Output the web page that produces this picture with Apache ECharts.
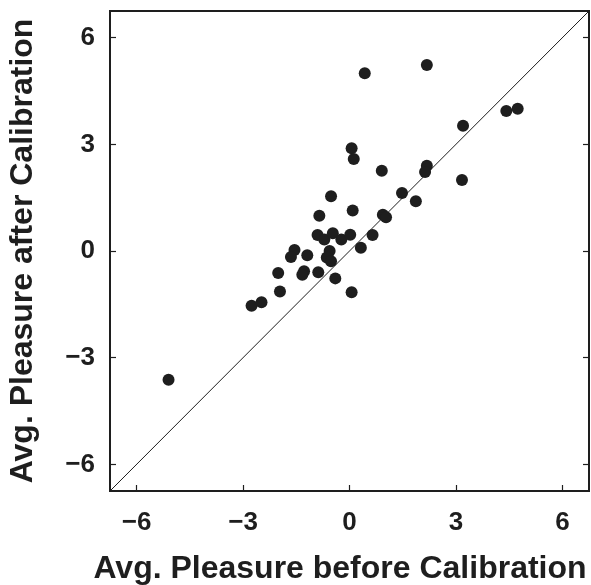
<!DOCTYPE html>
<html>
<head>
<meta charset="utf-8">
<script src="https://cdn.jsdelivr.net/npm/echarts@6/dist/echarts.min.js"></script>
<style>
html,body{margin:0;padding:0;background:#fff;}
#chart{width:591px;height:585px;}
</style>
</head>
<body>
<div id="chart"></div>
<script>
// Data
var beforeCalibration = [0.43, 2.18, 4.42, 4.74, 3.20, 3.17, 0.06, 0.12, 0.91, 2.18, 2.13, 1.48, 1.87, -0.52, 0.09, -0.85, 0.94, 1.03, 0.65, 0.32, -0.90, -0.71, -0.47, -0.23, 0.02, -1.55, -1.65, -1.19, -0.56, -0.64, -0.52, -1.28, -1.33, -0.88, -0.40, 0.06, -2.76, -2.48, -1.96, -5.10, -2.01];
var afterCalibration  = [5.00, 5.23, 3.94, 4.00, 3.52, 2.00, 2.89, 2.59, 2.26, 2.40, 2.22, 1.63, 1.40, 1.54, 1.14, 0.99, 1.02, 0.95, 0.45, 0.09, 0.45, 0.32, 0.50, 0.32, 0.46, 0.03, -0.17, -0.12, 0.00, -0.18, -0.29, -0.57, -0.67, -0.60, -0.77, -1.16, -1.54, -1.44, -1.14, -3.62, -0.62];
var tickValues = [-6, -3, 0, 3, 6];
var axisRange = [-6.75, 6.75];
var identityLine = [-6.75, 6.75];
var xTitle = 'Avg. Pleasure before Calibration';
var yTitle = 'Avg. Pleasure after Calibration';

var points = beforeCalibration.map(function (v, i) { return [v, afterCalibration[i]]; });
var diag = identityLine.map(function (v) { return [v, v]; });

var ink = '#1e1e1e';
var fontFamily = '"Liberation Sans", Arial, sans-serif';
function fmt(v) { return v < 0 ? '\u2212' + Math.abs(v) : String(v); }

function baseAxis(extra, labelMargin) {
  var a = {
    type: 'value',
    min: axisRange[0],
    max: axisRange[1],
    splitLine: { show: false },
    axisLine: { show: false, onZero: false },
    axisTick: { show: true, inside: true, length: 6, customValues: tickValues, lineStyle: { color: ink, width: 1.2 } },
    axisLabel: { show: true, customValues: tickValues, formatter: fmt, color: ink, fontFamily: fontFamily, fontWeight: 'bold', fontSize: 26, margin: labelMargin }
  };
  for (var k in extra) a[k] = extra[k];
  return a;
}

var chart = echarts.init(document.getElementById('chart'), null, { renderer: 'canvas' });
chart.setOption({
  animation: false,
  backgroundColor: '#fff',
  grid: {
    left: 110, right: 2, top: 11, bottom: 94,
    show: true, borderColor: ink, borderWidth: 2, backgroundColor: 'transparent',
    containLabel: false, outerBoundsMode: 'none'
  },
  xAxis: [
    baseAxis({
      position: 'bottom',
      name: xTitle, nameLocation: 'middle', nameGap: 62,
      nameTextStyle: { color: ink, fontFamily: fontFamily, fontWeight: 'bold', fontSize: 32, padding: [0, 19, 0, 0] }
    }, 19)
  ],
  yAxis: [
    baseAxis({
      position: 'left',
      name: yTitle, nameLocation: 'middle', nameGap: 71, nameRotate: 90,
      nameTextStyle: { color: ink, fontFamily: fontFamily, fontWeight: 'bold', fontSize: 32 }
    }, 15),
    (function () {
      var a = baseAxis({ position: 'right' }, 15);
      a.axisLabel = { show: false, customValues: tickValues };
      return a;
    })()
  ],
  series: [
    {
      type: 'line',
      data: diag,
      symbol: 'none',
      lineStyle: { color: ink, width: 1 },
      silent: true,
      z: 1
    },
    {
      type: 'scatter',
      data: points,
      symbol: 'circle',
      symbolSize: 12,
      itemStyle: { color: ink, opacity: 1 },
      z: 2
    }
  ]
});
</script>
</body>
</html>
